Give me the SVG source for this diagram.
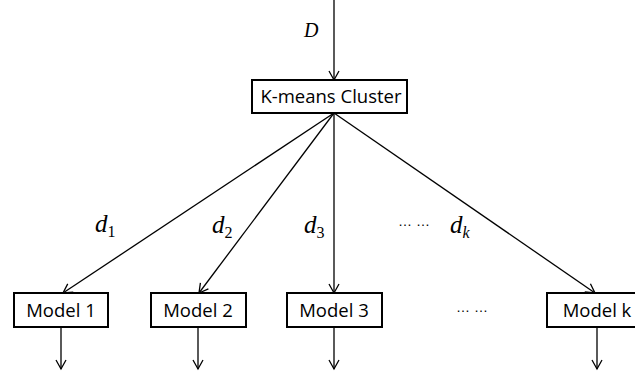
<svg xmlns="http://www.w3.org/2000/svg" width="635" height="372" viewBox="0 0 635 372">
  <style>
    .box { fill: #fff; stroke: #000; stroke-width: 2; }
    .lbl { font-family: "Open Sans", "Liberation Sans", Arial, sans-serif; font-size: 18.5px; fill: #000; text-anchor: middle; }
    .edge { stroke: #000; stroke-width: 1.3; fill: none; marker-end: url(#arr); }
    .math { font-family: "Liberation Serif", "Times New Roman", serif; font-style: italic; fill: #000; }
    .sub { font-size: 16px; }
    .up { font-style: normal; }
    .dots { font-family: "Liberation Sans", Arial, sans-serif; font-size: 14px; fill: #000; }
  </style>
  <defs>
    <marker id="arr" markerUnits="userSpaceOnUse" markerWidth="14" markerHeight="14" viewBox="0 0 14 14" refX="12" refY="7" orient="auto">
      <path d="M3,2 L12,7 L3,12" fill="none" stroke="#000" stroke-width="1.3"/>
    </marker>
  </defs>
  <rect width="635" height="372" fill="#fff"/>

  <g id="connectors">
    <line class="edge" x1="334" y1="0" x2="334" y2="80"/>
    <line class="edge" x1="334" y1="113" x2="63" y2="293"/>
    <line class="edge" x1="334" y1="113" x2="199" y2="293"/>
    <line class="edge" x1="334" y1="113" x2="334" y2="293"/>
    <line class="edge" x1="334" y1="113" x2="595" y2="293"/>
    <line class="edge" x1="61" y1="327" x2="61" y2="369"/>
    <line class="edge" x1="198" y1="327" x2="198" y2="369"/>
    <line class="edge" x1="334" y1="327" x2="334" y2="369"/>
    <line class="edge" x1="597" y1="327" x2="597" y2="369"/>
  </g>

  <g id="kmeans">
    <rect class="box" x="252" y="80" width="155" height="33"/>
    <text class="lbl" x="331" y="103">K-means Cluster</text>
  </g>
  <g id="model1">
    <rect class="box" x="14" y="293" width="94" height="34"/>
    <text class="lbl" x="61" y="317">Model 1</text>
  </g>
  <g id="model2">
    <rect class="box" x="151" y="293" width="95" height="34"/>
    <text class="lbl" x="198" y="317">Model 2</text>
  </g>
  <g id="model3">
    <rect class="box" x="287" y="293" width="95" height="34"/>
    <text class="lbl" x="334" y="317">Model 3</text>
  </g>
  <g id="modelk">
    <rect class="box" x="547" y="293" width="98" height="34"/>
    <text class="lbl" x="597" y="317">Model k</text>
  </g>

  <g id="labels">
    <text class="math" x="304" y="37" font-size="20">D</text>
    <text class="math" x="95" y="232" font-size="25">d<tspan class="sub up" dx="0" dy="5">1</tspan></text>
    <text class="math" x="212" y="233" font-size="25">d<tspan class="sub up" dx="0" dy="5">2</tspan></text>
    <text class="math" x="304" y="233" font-size="25">d<tspan class="sub up" dx="0" dy="5">3</tspan></text>
    <text class="math" x="450" y="233" font-size="25">d<tspan class="sub" dx="0" dy="5">k</tspan></text>
    <text class="dots" x="398" y="226">… …</text>
    <text class="dots" x="456" y="312">… …</text>
  </g>
</svg>
